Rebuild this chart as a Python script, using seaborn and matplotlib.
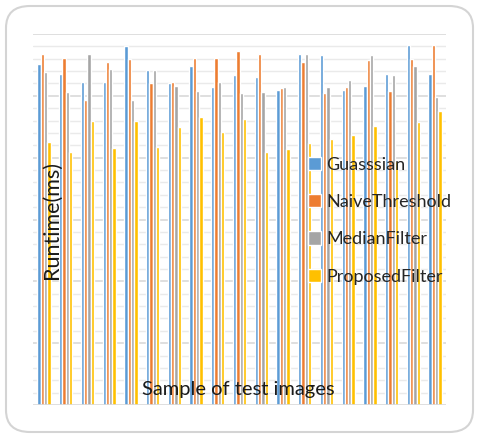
import pandas as pd
import numpy as np
import matplotlib
matplotlib.use("Agg")
import matplotlib.pyplot as plt
from matplotlib.patches import FancyBboxPatch
import seaborn as sns

# values (runtime, ms)
samples = [str(i) for i in range(1, 20)]
methods = ["Guasssian", "NaiveThreshold", "MedianFilter", "ProposedFilter"]
guassian = [27.6, 26.8, 26.1, 26.1, 29.0, 27.1, 26.0, 27.4, 25.7, 26.7,
            26.5, 25.5, 28.4, 28.3, 25.5, 25.8, 26.8, 29.1, 26.8]
naive = [28.4, 28.1, 24.7, 27.7, 28.0, 26.0, 26.1, 28.1, 28.1, 28.6,
         28.4, 25.6, 27.7, 25.2, 25.7, 27.9, 25.4, 28.0, 29.1]
median = [26.9, 25.3, 28.4, 27.2, 24.7, 27.1, 25.8, 25.4, 26.1, 25.2,
          25.3, 25.7, 28.4, 25.7, 26.3, 28.3, 26.7, 27.4, 24.9]
proposed = [21.3, 20.5, 23.0, 20.8, 23.0, 20.9, 22.5, 23.3, 22.1, 23.1,
            20.5, 20.7, 21.2, 21.5, 21.8, 22.6, 19.7, 22.9, 23.8]
colors = ["#5B9BD5", "#ED7D31", "#A5A5A5", "#FFC000"]

df = pd.DataFrame({
    "sample": samples * 4,
    "runtime": guassian + naive + median + proposed,
    "method": np.repeat(methods, len(samples)),
})

sns.set_style("white")
plt.rcParams["font.family"] = ["Lato", "DejaVu Sans"]

fig = plt.figure(figsize=(4.8, 4.38), dpi=100)
fig.patches.append(FancyBboxPatch((6 / 480, 6 / 438), 467 / 480, 426 / 438,
                                  boxstyle="round,pad=0,rounding_size=0.05",
                                  transform=fig.transFigure, fc="white",
                                  ec="#D4D4D4", lw=1.5, zorder=-5))
ax = fig.add_axes([0.069, 0.0753, 0.86, 0.847])
ax.patch.set_alpha(0)

sns.barplot(data=df, x="sample", y="runtime", hue="method", palette=colors,
            saturation=1, width=0.61, ax=ax, zorder=3, legend=True)

ax.set_ylim(0, 30)
ax.set_xlim(-0.5, 18.5)
for v in range(1, 31):
    ax.axhline(v, color="#D9D9D9" if v % 5 == 0 else "#EAEAEA",
               lw=1.2 if v % 5 == 0 else 1.0, zorder=1)
ax.axhline(0, color="#D9D9D9", lw=1.2, zorder=4)
ax.set_xticks([])
ax.set_yticks([])
ax.set_xlabel("")
ax.set_ylabel("")
for s in ax.spines.values():
    s.set_visible(False)

ax.text(0.045, 0.5, "Runtime(ms)", rotation=90, transform=ax.transAxes,
        ha="center", va="center", fontsize=15.5, color="#1a1a1a", zorder=6)
ax.text(0.498, 0.043, "Sample of test images", transform=ax.transAxes,
        ha="center", va="center", fontsize=14.5, color="#1a1a1a", zorder=6)

leg = ax.legend(loc="center left", bbox_to_anchor=(0.665, 0.497), frameon=False,
                fontsize=13, handlelength=0.75, handleheight=0.75,
                handletextpad=0.3, labelspacing=1.18, borderpad=0,
                borderaxespad=0)
leg.set_zorder(6)

fig.savefig("out.png", dpi=100)
